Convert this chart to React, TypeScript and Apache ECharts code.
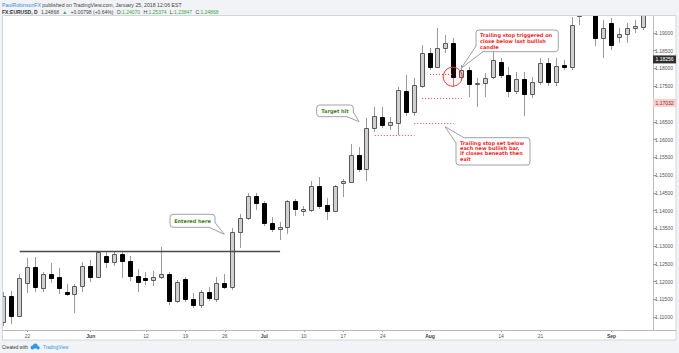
import React, { useEffect, useRef } from 'react';
import * as echarts from 'echarts';

const dates = [
  '2017-05-17','2017-05-18','2017-05-19','2017-05-22','2017-05-23','2017-05-24','2017-05-25','2017-05-26','2017-05-29','2017-05-30','2017-05-31',
  '2017-06-01','2017-06-02','2017-06-05','2017-06-06','2017-06-07','2017-06-08','2017-06-09','2017-06-12','2017-06-13','2017-06-14','2017-06-15','2017-06-16','2017-06-19','2017-06-20','2017-06-21','2017-06-22','2017-06-23','2017-06-26','2017-06-27','2017-06-28','2017-06-29','2017-06-30',
  '2017-07-03','2017-07-04','2017-07-05','2017-07-06','2017-07-07','2017-07-10','2017-07-11','2017-07-12','2017-07-13','2017-07-14','2017-07-17','2017-07-18','2017-07-19','2017-07-20','2017-07-21','2017-07-24','2017-07-25','2017-07-26','2017-07-27','2017-07-28','2017-07-31',
  '2017-08-01','2017-08-02','2017-08-03','2017-08-04','2017-08-07','2017-08-08','2017-08-09','2017-08-10','2017-08-11','2017-08-14','2017-08-15','2017-08-16','2017-08-17','2017-08-18','2017-08-21','2017-08-22','2017-08-23','2017-08-24','2017-08-25','2017-08-28','2017-08-29','2017-08-30','2017-08-31',
  '2017-09-01','2017-09-04','2017-09-05','2017-09-06','2017-09-07'
];

const opens = [
  1.10859,1.11592,1.11028,1.11958,1.12409,1.11817,1.12211,1.12127,1.11704,1.11648,
  1.11873,1.12437,1.12127,1.12718,1.12549,1.12775,1.12577,1.12155,1.12085,1.12042,
  1.12127,1.12211,1.11451,1.12070,1.11507,1.11338,1.11704,1.11507,1.11958,1.11845,
  1.13394,1.13789,1.14409,1.14211,1.13648,1.13479,1.13535,1.14268,1.13986,1.14014,
  1.14690,1.14155,1.13986,1.14775,1.14803,1.15563,1.15169,1.16324,1.16634,1.16408,
  1.16465,1.17366,1.16775,1.17507,1.18437,1.18042,1.18577,1.18718,1.17761,1.17958,
  1.17563,1.17592,1.17761,1.18183,1.17817,1.17366,1.17704,1.17282,1.17620,1.18155,
  1.17620,1.18099,1.18042,1.19480,1.19761,1.19670,1.18859,1.19282,1.18887,1.18972,
  1.19141,1.19169
];
const closes = [
  1.11592,1.11028,1.12099,1.12409,1.11845,1.12211,1.12099,1.11817,1.11648,1.11873,
  1.12437,1.12127,1.12831,1.12549,1.12775,1.12577,1.12155,1.11986,1.12056,1.12127,
  1.12211,1.11451,1.11986,1.11507,1.11338,1.11704,1.11535,1.11958,1.11845,1.13394,
  1.13789,1.14409,1.14211,1.13648,1.13479,1.13535,1.14268,1.14042,1.14042,1.14690,
  1.14127,1.13986,1.14690,1.14831,1.15563,1.15169,1.16324,1.16662,1.16408,1.16493,
  1.17394,1.16775,1.17535,1.18437,1.18042,1.18577,1.18718,1.17761,1.17958,1.17563,
  1.17592,1.17732,1.18239,1.17817,1.17366,1.17704,1.17282,1.17620,1.18155,1.17620,
  1.18070,1.18042,1.19225,1.19761,1.19670,1.18859,1.19141,1.18662,1.18972,1.19141,
  1.19197,1.20200
];
const highs = [
  1.11704,1.11732,1.12211,1.12662,1.12690,1.12268,1.12521,1.12380,1.11930,1.11930,
  1.12549,1.12606,1.12859,1.12831,1.12831,1.12831,1.12718,1.12352,1.12268,1.12296,
  1.12972,1.12268,1.12042,1.12127,1.11676,1.11761,1.11845,1.12127,1.12211,1.13507,
  1.13901,1.14493,1.14493,1.14268,1.13817,1.13676,1.14296,1.14324,1.14127,1.14831,
  1.14944,1.14352,1.14718,1.14887,1.15873,1.15789,1.16606,1.16916,1.16916,1.16634,
  1.17479,1.17817,1.17732,1.18662,1.18577,1.19141,1.18944,1.18859,1.18099,1.18042,
  1.17732,1.17873,1.18521,1.18296,1.18042,1.17901,1.17901,1.17761,1.18296,1.18296,
  1.18296,1.18239,1.19451,1.19873,1.20700,1.19800,1.19366,1.19423,1.19141,1.19282,
  1.19366,1.20590
];
const lows = [
  1.10746,1.10803,1.11000,1.11676,1.11704,1.11704,1.11958,1.11648,1.11592,1.11113,
  1.11704,1.11986,1.12099,1.12380,1.12437,1.12099,1.12014,1.11704,1.11901,1.11873,
  1.12070,1.11338,1.11394,1.11423,1.11254,1.11254,1.11451,1.11423,1.11789,1.11761,
  1.12944,1.13732,1.14014,1.13563,1.13394,1.13169,1.13338,1.13845,1.13845,1.13958,
  1.14042,1.13732,1.13958,1.14380,1.14775,1.15085,1.14831,1.16211,1.16324,1.16268,
  1.16127,1.16662,1.16662,1.17451,1.17958,1.18014,1.18437,1.17479,1.17676,1.17197,
  1.16916,1.17197,1.17704,1.17732,1.17197,1.17282,1.16662,1.17169,1.17535,1.17507,
  1.17507,1.17958,1.17958,1.19225,1.19560,1.18634,1.18296,1.18521,1.18718,1.18718,
  1.19000,1.19085
];

const tickIndex = [3, 11, 18, 23, 28, 33, 38, 43, 48, 54, 63, 68, 77];
const tickText = ['22', 'Jun', '12', '19', '26', 'Jul', '10', '17', '24', 'Aug', '14', '21', 'Sep'];

const yMin = 1.10634;
const yMax = 1.19507;
const yStep = 0.005;

const resistanceFrom = 2;
const resistanceTo = 35;
const resistancePrice = 1.12859;

const stopFrom = [47, 52, 53, 54];
const stopTo = [52, 57, 58, 57];
const stopPrice = [1.16127, 1.16465, 1.17169, 1.17845];

const tagPrices = [1.18256, 1.17032];
const tagBg = ['#2e2e2e', '#f7cfcf'];
const tagFg = ['#ffffff', '#8a3030'];

const SANS = '"Liberation Sans", Arial, sans-serif';
const NOTE = '"DejaVu Sans", "Liberation Sans", sans-serif';

function callout(box: number[], base: number[][], tip: number[], text: string, color: string, tx: number, ty: number, align: string, lh: number) {
  const [x, y, w, h] = box;
  return [
    { type: 'rect', z: 100, shape: { x, y, width: w, height: h, r: 3 }, style: { fill: '#ffffff', stroke: '#9ea3aa', lineWidth: 1 } },
    { type: 'polygon', z: 101, shape: { points: [base[0], tip, base[1]] }, style: { fill: '#ffffff' } },
    { type: 'polyline', z: 102, shape: { points: [base[0], tip, base[1]] }, style: { stroke: '#9ea3aa', lineWidth: 1, fill: null } },
    { type: 'text', z: 103, x: tx, y: ty, style: { text, fill: color, font: `bold 5px ${NOTE}`, align, verticalAlign: 'top', lineHeight: lh } },
  ];
}

export default function App() {
  const ref = useRef<HTMLDivElement>(null);
  useEffect(() => {
    const el = ref.current!;
    const chart = echarts.init(el, null, { renderer: 'svg' });
    const candles = dates.map((d, i) => [i, opens[i], closes[i], lows[i], highs[i]]);
    const showTick = (idx: number) => tickIndex.indexOf(idx) >= 0;

    const markData: any[] = [];
    markData.push([
      { coord: [dates[resistanceFrom], resistancePrice], lineStyle: { color: '#4a4a4a', width: 1.3, type: 'solid' } },
      { coord: [dates[resistanceTo], resistancePrice] },
    ]);
    stopPrice.forEach((p, k) => {
      markData.push([
        { coord: [dates[stopFrom[k]], p], lineStyle: { color: '#ff4040', width: 1, type: [1, 2] } },
        { coord: [dates[stopTo[k]], p] },
      ]);
    });

    const option: any = {
      animation: false,
      backgroundColor: '#ffffff',
      grid: { left: 0, right: 32, top: 15, bottom: 23, containLabel: false },
      xAxis: {
        type: 'category',
        data: dates,
        boundaryGap: true,
        axisLine: { show: false },
        axisTick: { show: true, interval: showTick, alignWithLabel: true, length: 2, lineStyle: { color: '#9a9a9a' } },
        axisLabel: {
          interval: showTick,
          margin: 3,
          fontSize: 5,
          color: '#555',
          fontFamily: SANS,
          formatter: (v: string, idx: number) => {
            const k = tickIndex.indexOf(idx);
            if (k < 0) return '';
            const t = tickText[k];
            return /^[A-Z]/.test(t) ? `{m|${t}}` : t;
          },
          rich: { m: { fontWeight: 'bold', fontSize: 5, color: '#444', fontFamily: SANS } },
        },
        splitLine: { show: false },
      },
      yAxis: {
        type: 'value',
        position: 'right',
        offset: 6,
        min: yMin,
        max: yMax,
        minInterval: yStep,
        maxInterval: yStep,
        axisLine: { show: true, lineStyle: { color: '#b8bcc2' } },
        axisTick: { show: true, length: 3, lineStyle: { color: '#9a9a9a' } },
        axisLabel: {
          margin: 2,
          fontSize: 5,
          color: '#555',
          fontFamily: SANS,
          formatter: (v: number) => (v > 1.1925 || v < 1.1075 ? '' : v.toFixed(5)),
        },
        splitLine: { show: false },
      },
      series: [
        {
          type: 'custom',
          clip: true,
          encode: { x: 0, y: [1, 2, 3, 4] },
          data: candles,
          renderItem: (params: any, api: any) => {
            const i = api.value(0);
            const o = api.value(1), c = api.value(2), l = api.value(3), h = api.value(4);
            const pO = api.coord([i, o]);
            const pC = api.coord([i, c]);
            const pL = api.coord([i, l]);
            const pH = api.coord([i, h]);
            const cs = params.coordSys;
            const top = cs.y, bottom = cs.y + cs.height;
            const clamp = (v: number) => Math.max(top, Math.min(bottom, v));
            const x = Math.round(pO[0] - 0.5);
            const bw = 5;
            const bull = c >= o;
            const children: any[] = [];
            if (pL[1] > top) {
              children.push({
                type: 'line',
                shape: { x1: x + 0.5, y1: clamp(pH[1]), x2: x + 0.5, y2: clamp(pL[1]) },
                style: { stroke: '#9a9a9a', lineWidth: 1 },
              });
            }
            const yt = Math.min(pO[1], pC[1]);
            const yb = Math.max(pO[1], pC[1]);
            if (yb > top) {
              const y1 = Math.round(clamp(yt));
              const y2 = Math.round(clamp(yb));
              children.push({
                type: 'rect',
                shape: { x: x - 2 + 0.5, y: y1 + 0.5, width: bw - 1, height: Math.max(1, y2 - y1) },
                style: { fill: bull ? '#d0d0d0' : '#000000', stroke: bull ? '#5a5a5a' : '#000000', lineWidth: 1 },
              });
            }
            return { type: 'group', children };
          },
          z: 2,
        },
        {
          type: 'line',
          data: [],
          silent: true,
          markLine: { silent: true, symbol: 'none', animation: false, label: { show: false }, data: markData },
          z: 5,
        },
      ],
    };
    chart.setOption(option);

    const tagEls: any[] = [];
    tagPrices.forEach((p, k) => {
      const yy = chart.convertToPixel({ yAxisIndex: 0 }, p) as number;
      tagEls.push({ type: 'rect', z: 110, shape: { x: 653, y: yy - 4, width: 23, height: 8 }, style: { fill: tagBg[k] } });
      tagEls.push({ type: 'text', z: 111, x: 664.5, y: yy, style: { text: p.toFixed(5), fill: tagFg[k], font: `5px ${SANS}`, align: 'center', verticalAlign: 'middle' } });
    });

    const graphics: any[] = [
      { type: 'rect', z: 90, shape: { x: 0, y: 0, width: 679, height: 15 }, style: { fill: '#f1f3f6' } },
      { type: 'rect', z: 90, shape: { x: 0, y: 340, width: 679, height: 13 }, style: { fill: '#f1f3f6' } },
      { type: 'rect', z: 90, shape: { x: 676, y: 0, width: 3, height: 353 }, style: { fill: '#f1f3f6' } },
      { type: 'rect', z: 90, shape: { x: 0, y: 0, width: 2, height: 353 }, style: { fill: '#f1f3f6' } },
      { type: 'rect', z: 91, shape: { x: 2.5, y: 15.5, width: 673.5, height: 324.5 }, style: { fill: null, stroke: '#d3d6db', lineWidth: 1 } },
      { type: 'line', z: 91, shape: { x1: 2.5, y1: 330.5, x2: 676, y2: 330.5 }, style: { stroke: '#b8bcc2', lineWidth: 1 } },
      {
        type: 'text', z: 95, x: 2, y: 4.5,
        style: {
          text: '{a|PaulRobinsonFX}{b| published on TradingView.com, January 25, 2018 12:06 EST}',
          verticalAlign: 'middle',
          rich: {
            a: { fill: '#3d8fd6', font: `5.2px ${SANS}` },
            b: { fill: '#444', font: `5.2px ${SANS}` },
          },
        },
      },
      {
        type: 'text', z: 95, x: 2, y: 11.5,
        style: {
          text: '{k|FX:EURUSD, D} {t|1.24868} {g|▲} {t|+0.00798 (+0.64%)} {t|O:}{g|1.24070} {t|H:}{g|1.25374} {t|L:}{g|1.23847} {t|C:}{g|1.24868}',
          verticalAlign: 'middle',
          rich: {
            k: { fill: '#333', font: `bold 5px ${SANS}` },
            t: { fill: '#444', font: `5px ${SANS}` },
            g: { fill: '#3aa845', font: `5px ${SANS}` },
          },
        },
      },
      { type: 'text', z: 95, x: 2, y: 347, style: { text: 'Created with', fill: '#333', font: `4.6px ${SANS}`, verticalAlign: 'middle' } },
      { type: 'circle', z: 95, shape: { cx: 32.5, cy: 347.5, r: 1.9 }, style: { fill: '#2f9ae0' } },
      { type: 'circle', z: 95, shape: { cx: 35.3, cy: 346, r: 2.5 }, style: { fill: '#2f9ae0' } },
      { type: 'circle', z: 95, shape: { cx: 38, cy: 347.8, r: 1.7 }, style: { fill: '#2f9ae0' } },
      { type: 'text', z: 95, x: 43, y: 347, style: { text: 'TradingView', fill: '#2f9ae0', font: `4.6px ${SANS}`, verticalAlign: 'middle' } },
      { type: 'circle', z: 100, shape: { cx: 452.7, cy: 76.7, r: 9.5 }, style: { fill: 'rgba(255,70,70,0.06)', stroke: '#f03c3c', lineWidth: 1 } },
      ...callout([170, 214.3, 45, 13], [[209, 227.3], [215, 222.5]], [224.3, 234.3], 'Entered here', '#3f7d1e', 192.5, 217.8, 'center', 6),
      ...callout([316.7, 105, 36.6, 11.7], [[347, 116.7], [353.3, 112]], [359, 121.7], 'Target hit', '#3f7d1e', 335, 108.2, 'center', 6),
      ...callout([476, 30, 82.3, 21.7], [[476, 46], [483, 51.7]], [461, 68.5], 'Trailing stop triggered on\nclose below last bullish\ncandle', '#f02a2a', 480, 32, 'left', 6),
      ...callout([456, 137.7, 74, 27.3], [[456, 143], [464, 137.7]], [445, 126.7], 'Trailing stop set below\neach new bullish bar,\nif closes beneath then\nexit', '#f02a2a', 460, 140, 'left', 5.3),
      ...tagEls,
    ];
    chart.setOption({ graphic: graphics });
    return () => chart.dispose();
  }, []);
  return <div ref={ref} style={{ position: 'fixed', left: 0, top: 0, width: 679, height: 353 }} />;
}
